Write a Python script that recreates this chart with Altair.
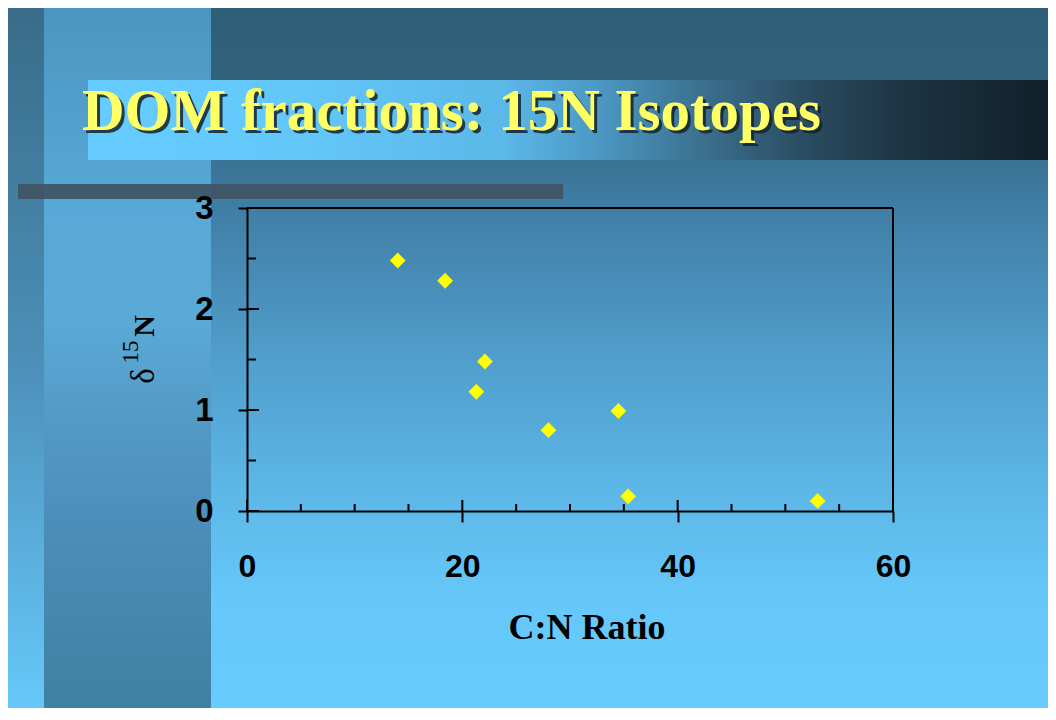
import altair as alt
import pandas as pd

# ---- data ----
cn_ratio = [14.0, 18.4, 22.1, 21.3, 28.0, 34.5, 35.4, 53.0]
d15n = [2.48, 2.28, 1.48, 1.18, 0.80, 0.99, 0.145, 0.10]

x_major = [0, 20, 40, 60]
x_minor = [5, 10, 15, 25, 30, 35, 45, 50, 55]
y_major = [0, 1, 2, 3]
y_minor = [0.5, 1.5, 2.5]

title_text = "DOM fractions: 15N Isotopes"
x_title = "C:N Ratio"

W, H = 646, 303          # plot area
PL, PT = 239, 200        # padding so the plot lands where the slide has it
TOTAL_W, TOTAL_H = 1040, 700

pts = pd.DataFrame({"cn": cn_ratio, "d15n": d15n})
one = alt.Data(values=[{}])

xscale = alt.Scale(domain=[0, 60], nice=False, zero=True)
yscale = alt.Scale(domain=[0, 3], nice=False, zero=True)

x_axis = alt.Axis(values=x_major, title=None, grid=False, tickSize=11, tickWidth=2,
                  tickColor="black", domainColor="black", domainWidth=2,
                  labelFont="Liberation Sans", labelFontWeight="bold", labelFontSize=32,
                  labelColor="black", labelPadding=29, zindex=1, labelFlush=False,
                  format="d")
y_axis = alt.Axis(values=y_major, title=None, grid=False, tickSize=9, tickWidth=2,
                  tickColor="black", domainColor="black", domainWidth=2,
                  labelFont="Liberation Sans", labelFontWeight="bold", labelFontSize=33,
                  labelColor="black", labelPadding=25, zindex=1, labelFlush=False,
                  format="d")

X = alt.X("cn:Q", scale=xscale, axis=x_axis)
Y = alt.Y("d15n:Q", scale=yscale, axis=y_axis)


def vgrad(stops):
    return alt.Gradient(gradient="linear", x1=0, x2=0, y1=0, y2=1,
                        stops=[alt.GradientStop(color=c, offset=o) for o, c in stops])


def hgrad(stops):
    return alt.Gradient(gradient="linear", x1=0, x2=1, y1=0, y2=0,
                        stops=[alt.GradientStop(color=c, offset=o) for o, c in stops])


def box(x0, x1, y0, y1, fill, opacity=1.0):
    return alt.Chart(one).mark_rect(fill=fill, opacity=opacity, strokeWidth=0).encode(
        x=alt.value(x0), x2=alt.value(x1), y=alt.value(y0), y2=alt.value(y1))


# background of the slide
bg_main = box(-PL, TOTAL_W - PL, -PT, TOTAL_H - PT, vgrad([
    (0.0, "#2F5E77"), (0.12, "#32637E"), (0.3, "#4180A8"), (0.5, "#509ECB"),
    (0.7, "#5DB8E8"), (0.85, "#66C8FA"), (1.0, "#66CBFD")]))
bg_strip = box(-PL, 44 - 247, -PT, TOTAL_H - PT, vgrad([
    (0.0, "#396C89"), (0.5, "#4C8FB8"), (1.0, "#66C8FA")]))
bg_band = box(44 - 247, 211 - 247, -PT, TOTAL_H - PT, vgrad([
    (0.0, "#4A96C0"), (0.3, "#58A9D7"), (0.45, "#5AA9D6"), (0.6, "#5399C5"),
    (0.75, "#4B8DB8"), (1.0, "#4080A2")]))
title_bar = box(88 - 247, TOTAL_W - PL, 80 - 208, 160 - 208, hgrad([
    (0.0, "#66CCFF"), (0.22, "#63C7FA"), (0.434, "#5BB8E8"), (0.54, "#4A95BF"),
    (0.645, "#3A6E8C"), (0.75, "#2A4B60"), (0.855, "#1C3343"), (1.0, "#10202A")]))
gray_bar = box(18 - 247, 563 - 247, 184 - 208, 199 - 208, "#3E5667", 0.95)

# title with shadow
title_shadow = alt.Chart(one).mark_text(
    text=title_text, font="Liberation Serif", fontWeight="bold", fontSize=59,
    align="left", baseline="alphabetic", color="#14232C", opacity=0.85
).encode(x=alt.value(-165 + 3), y=alt.value(-78 + 3))
title = alt.Chart(one).mark_text(
    text=title_text, font="Liberation Serif", fontWeight="bold", fontSize=59,
    align="left", baseline="alphabetic", color="#FFFF66"
).encode(x=alt.value(-165), y=alt.value(-78))

# axis titles
xtitle = alt.Chart(one).mark_text(
    text=x_title, font="Liberation Serif", fontWeight="bold", fontSize=36,
    align="center", baseline="alphabetic", color="black"
).encode(x=alt.value(340), y=alt.value(431))

yt_delta = alt.Chart(one).mark_text(
    text="δ", font="Liberation Serif", fontSize=33, angle=270,
    align="center", baseline="alphabetic", color="black"
).encode(x=alt.value(-93), y=alt.value(168))
yt_15 = alt.Chart(one).mark_text(
    text="15", font="Liberation Serif", fontSize=23, angle=270,
    align="center", baseline="alphabetic", color="black"
).encode(x=alt.value(-109), y=alt.value(144))
yt_n = alt.Chart(one).mark_text(
    text="N", font="Liberation Serif", fontWeight="bold", fontSize=30, angle=270,
    align="center", baseline="alphabetic", color="black"
).encode(x=alt.value(-93), y=alt.value(118))

# plot frame (top and right)
frame_top = alt.Chart(one).mark_rule(color="black", strokeWidth=2).encode(
    x=alt.value(0), x2=alt.value(W), y=alt.value(0))
frame_right = alt.Chart(one).mark_rule(color="black", strokeWidth=2).encode(
    x=alt.value(W), y=alt.value(0), y2=alt.value(H))

# inner tick marks
xt_major = alt.Chart(pd.DataFrame({"cn": x_major})).mark_rule(color="black", strokeWidth=2).encode(
    x=X, y=alt.value(H - 11), y2=alt.value(H))
xt_minor = alt.Chart(pd.DataFrame({"cn": x_minor})).mark_rule(color="black", strokeWidth=2).encode(
    x=X, y=alt.value(H - 7), y2=alt.value(H))
yt_major = alt.Chart(pd.DataFrame({"d15n": y_major})).mark_rule(color="black", strokeWidth=2).encode(
    y=Y, x=alt.value(0), x2=alt.value(12))
yt_minor = alt.Chart(pd.DataFrame({"d15n": y_minor})).mark_rule(color="black", strokeWidth=2).encode(
    y=Y, x=alt.value(0), x2=alt.value(9))

points = alt.Chart(pts).mark_point(
    shape="diamond", filled=True, size=250, color="#FFFF00", opacity=1
).encode(x=X, y=Y)

chart = alt.layer(
    bg_main, bg_strip, bg_band, title_bar, gray_bar,
    title_shadow, title,
    frame_top, frame_right,
    xt_major, xt_minor, yt_major, yt_minor,
    points,
    xtitle, yt_delta, yt_15, yt_n,
).properties(
    width=W, height=H,
    padding={"left": PL, "top": PT, "right": TOTAL_W - PL - W, "bottom": TOTAL_H - PT - H},
    autosize=alt.AutoSizeParams(type="none"),
    background="#66C8FC",
).configure_view(strokeWidth=0)

chart.save("out.html", embed_options={"renderer": "svg", "actions": False})
